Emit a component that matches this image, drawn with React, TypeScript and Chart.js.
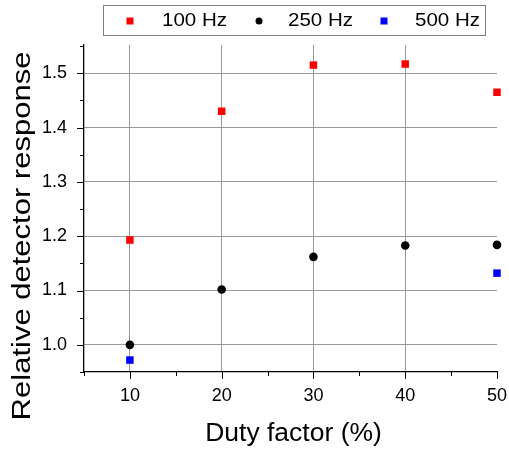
import React, { useEffect, useRef } from "react";
import { Chart, registerables } from "chart.js";

Chart.register(...registerables);

const dutyFactors = [10, 20, 30, 40, 50];
const hz100 = [1.193, 1.43, 1.515, 1.517, 1.465];
const hz250 = [1.0, 1.102, 1.162, 1.183, 1.184];
const hz500Duty = [10, 50];
const hz500 = [0.972, 1.132];
const seriesLabels = ["100 Hz", "250 Hz", "500 Hz"];
const xTitle = "Duty factor (%)";
const yTitle = "Relative detector response";

const FONT = "'Liberation Sans', Arial, sans-serif";

const isMult = (v: number, m: number) => Math.abs(Math.round(v * 100) % Math.round(m * 100)) === 0;

const decorPlugin = {
  id: "decor",
  afterDraw(chart: any) {
    const ctx = chart.ctx as CanvasRenderingContext2D;
    const xs = chart.scales.x;
    const ys = chart.scales.y;
    const area = chart.chartArea;
    ctx.save();
    ctx.strokeStyle = "#000";
    ctx.lineWidth = 1;
    // y ticks
    for (let v = 0.95; v <= 1.5501; v += 0.05) {
      const vv = Math.round(v * 100) / 100;
      const py = Math.round(ys.getPixelForValue(vv)) + 0.5;
      const len = isMult(vv, 0.1) ? 7 : 4;
      ctx.beginPath();
      ctx.moveTo(area.left, py);
      ctx.lineTo(area.left - len, py);
      ctx.stroke();
    }
    // x ticks
    for (let v = 5; v <= 50; v += 5) {
      const px = Math.round(xs.getPixelForValue(v)) + 0.5;
      const len = v % 10 === 0 ? 7 : 4;
      ctx.beginPath();
      ctx.moveTo(px, area.bottom);
      ctx.lineTo(px, area.bottom + len);
      ctx.stroke();
    }
    // axis titles
    ctx.fillStyle = "#000";
    ctx.textAlign = "center";
    ctx.textBaseline = "middle";
    ctx.font = `25px ${FONT}`;
    ctx.save();
    ctx.translate((area.left + area.right) / 2 + 3, 434);
    ctx.scale(1.06, 1);
    ctx.fillText(xTitle, 0, 0);
    ctx.restore();
    ctx.save();
    ctx.translate(23, 236);
    ctx.rotate(-Math.PI / 2);
    ctx.scale(1.24, 1);
    ctx.fillText(yTitle, 0, 0);
    ctx.restore();

    // legend
    ctx.strokeStyle = "#7f7f7f";
    ctx.lineWidth = 1;
    ctx.strokeRect(103.5, 5.5, 382, 30);
    const items = [
      { mx: 130, tx: 162 },
      { mx: 259, tx: 288 },
      { mx: 384, tx: 415 },
    ];
    chart.data.datasets.forEach((ds: any, i: number) => {
      const it = items[i];
      ctx.fillStyle = ds.backgroundColor;
      if (ds.pointStyle === "circle") {
        ctx.beginPath();
        ctx.arc(it.mx, 21, 3.5, 0, Math.PI * 2);
        ctx.fill();
      } else {
        ctx.fillRect(it.mx - 3.5, 17.5, 7, 7);
      }
      ctx.fillStyle = "#000";
      ctx.font = `19px ${FONT}`;
      ctx.textAlign = "left";
      ctx.save();
      ctx.translate(it.tx, 21);
      ctx.scale(1.08, 1);
      ctx.fillText(ds.label, 0, 0);
      ctx.restore();
    });
    ctx.restore();
  },
};

export default function App() {
  const ref = useRef<HTMLCanvasElement | null>(null);
  useEffect(() => {
    document.body.style.margin = "0";
    if (!ref.current) return;
    const chart = new Chart(ref.current, {
      type: "scatter",
      data: {
        datasets: [
          {
            label: seriesLabels[0],
            data: dutyFactors.map((x, i) => ({ x, y: hz100[i] })),
            backgroundColor: "#ff0000",
            borderColor: "#ff0000",
            pointStyle: "rect",
            pointRadius: 5.3,
            borderWidth: 0,
          },
          {
            label: seriesLabels[1],
            data: dutyFactors.map((x, i) => ({ x, y: hz250[i] })),
            backgroundColor: "#000000",
            borderColor: "#000000",
            pointStyle: "circle",
            pointRadius: 4.3,
            borderWidth: 0,
          },
          {
            label: seriesLabels[2],
            data: hz500Duty.map((x, i) => ({ x, y: hz500[i] })),
            backgroundColor: "#0000ff",
            borderColor: "#0000ff",
            pointStyle: "rect",
            pointRadius: 5.3,
            borderWidth: 0,
          },
        ],
      },
      options: {
        animation: false,
        responsive: false,
        clip: false as any,
        layout: { padding: { left: 0, right: 12, top: 45, bottom: 0 } },
        plugins: { legend: { display: false }, tooltip: { enabled: false } },
        scales: {
          x: {
            type: "linear",
            min: 5,
            max: 50,
            afterFit: (s: any) => {
              s.height = 78;
              s.paddingLeft = 0;
              s.paddingRight = 0;
            },
            ticks: {
              stepSize: 5,
              padding: 13,
              color: "#000",
              font: { family: FONT, size: 18 },
              maxRotation: 0,
              autoSkip: false,
              callback: (v: any) => (Number(v) % 10 === 0 ? String(v) : ""),
            },
            grid: {
              drawTicks: false,
              color: (c: any) => {
                const v = c.tick?.value;
                return v % 10 === 0 && v > 5 && v < 50 ? "#999999" : "rgba(0,0,0,0)";
              },
              lineWidth: 1,
            },
            border: { display: true, color: "#000", width: 1.3 },
          },
          y: {
            type: "linear",
            min: 0.95,
            max: 1.552,
            afterFit: (s: any) => {
              s.width = 84;
              s.paddingTop = 0;
              s.paddingBottom = 0;
            },
            ticks: {
              stepSize: 0.05,
              padding: 17,
              color: "#000",
              font: { family: FONT, size: 18 },
              autoSkip: false,
              callback: (v: any) => {
                const n = Math.round(Number(v) * 100) / 100;
                return isMult(n, 0.1) && n >= 1 ? n.toFixed(1) : "";
              },
            },
            grid: {
              drawTicks: false,
              color: (c: any) => {
                const v = Math.round((c.tick?.value ?? 0) * 100) / 100;
                return isMult(v, 0.1) && v >= 1 ? "#999999" : "rgba(0,0,0,0)";
              },
              lineWidth: 1,
            },
            border: { display: true, color: "#000", width: 1.3 },
          },
        },
      },
      plugins: [decorPlugin],
    });
    return () => chart.destroy();
  }, []);
  return <canvas ref={ref} width={509} height={450} style={{ display: "block" }} />;
}
